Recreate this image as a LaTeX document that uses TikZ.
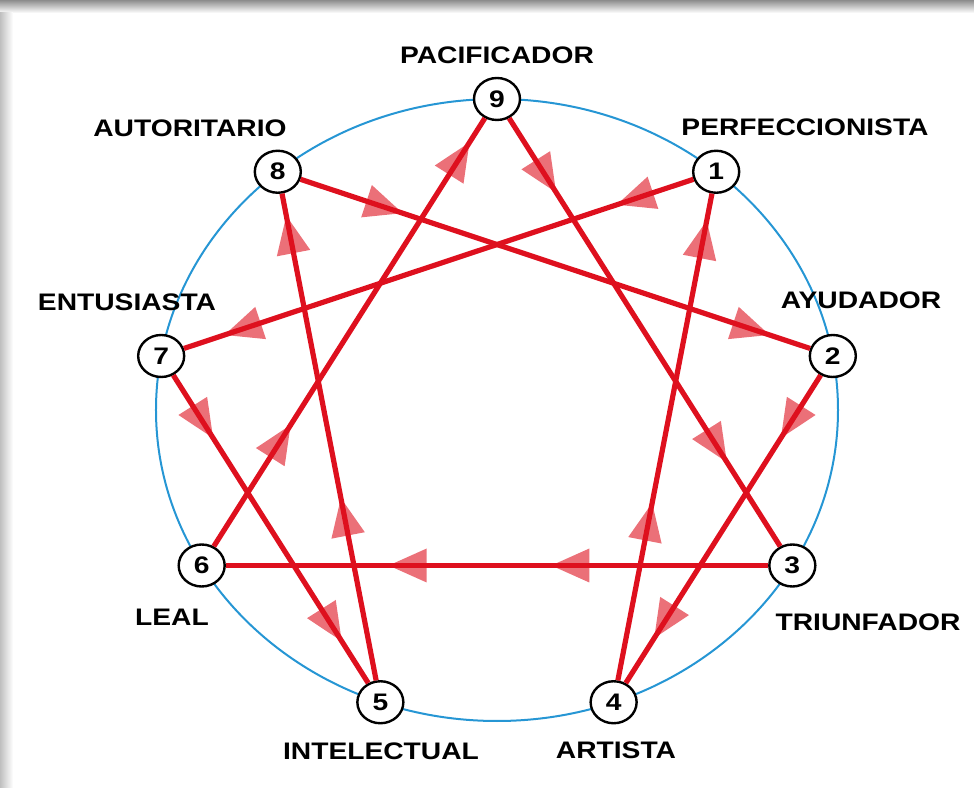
\documentclass[tikz,border=0pt]{standalone}
\usepackage{fontspec}
\setmainfont{Liberation Sans}[FakeStretch=1.18]
\usetikzlibrary{shapes.geometric}

\definecolor{ringblue}{RGB}{38,150,212}
\definecolor{linered}{RGB}{222,16,30}

\begin{document}
\begin{tikzpicture}[
  x=0.25mm, y=0.25mm,
  every node/.style={font=\fontsize{17}{20}\selectfont\bfseries},
  num/.style={ellipse,draw=black,line width=.6mm,fill=white,inner sep=0pt,
              minimum width=11.5mm,minimum height=10.5mm},
  tag/.style={inner sep=0pt},
  ring/.style={draw=ringblue,line width=.5mm},
  link/.style={draw=linered,line width=1.3mm},
  tip/.style={isosceles triangle,isosceles triangle stretches,sloped,
              allow upside down,fill=linered,fill opacity=.6,inner sep=0pt,
              minimum width=8.5mm,minimum height=9.5mm}
]
\useasboundingbox (-497,-378) rectangle (477,410);
\shade[top color=black!45,bottom color=white] (-497,410) rectangle (477,397);
\shade[left color=black!25,right color=white] (-497,397) rectangle (-484,-378);

\draw[ring] (0,0) ellipse [x radius=341,y radius=311];

\foreach \n/\a in {9/90,1/50,2/10,3/-30,4/-70,5/-110,6/-150,7/170,8/130}
  \node[num] (n\n) at (\a:341 and 311) {\n};

\foreach \s/\t/\p/\q in {1/7/.10/.87, 7/5/.13/.79, 5/8/.32/.9, 8/2/.15/.87,
                         2/4/.13/.78, 4/1/.31/.89, 6/9/.23/.89, 9/3/.12/.75,
                         3/6/.35/.65}
  \draw[link,allow upside down] (n\s) -- node[tip,pos=\p]{} node[tip,pos=\q]{} (n\t);

\node[tag] (pacificador) at (0,355) {PACIFICADOR};
\node[tag] (perfeccionista) at (308,283) {PERFECCIONISTA};
\node[tag] (ayudador) at (364,110) {AYUDADOR};
\node[tag] (triunfador) at (371,-212) {TRIUNFADOR};
\node[tag] (artista) at (119,-340) {ARTISTA};
\node[tag] (intelectual) at (-116,-341) {INTELECTUAL};
\node[tag] (leal) at (-325,-207) {LEAL};
\node[tag] (entusiasta) at (-370,108) {ENTUSIASTA};
\node[tag] (autoritario) at (-307,282) {AUTORITARIO};
\end{tikzpicture}
\end{document}
